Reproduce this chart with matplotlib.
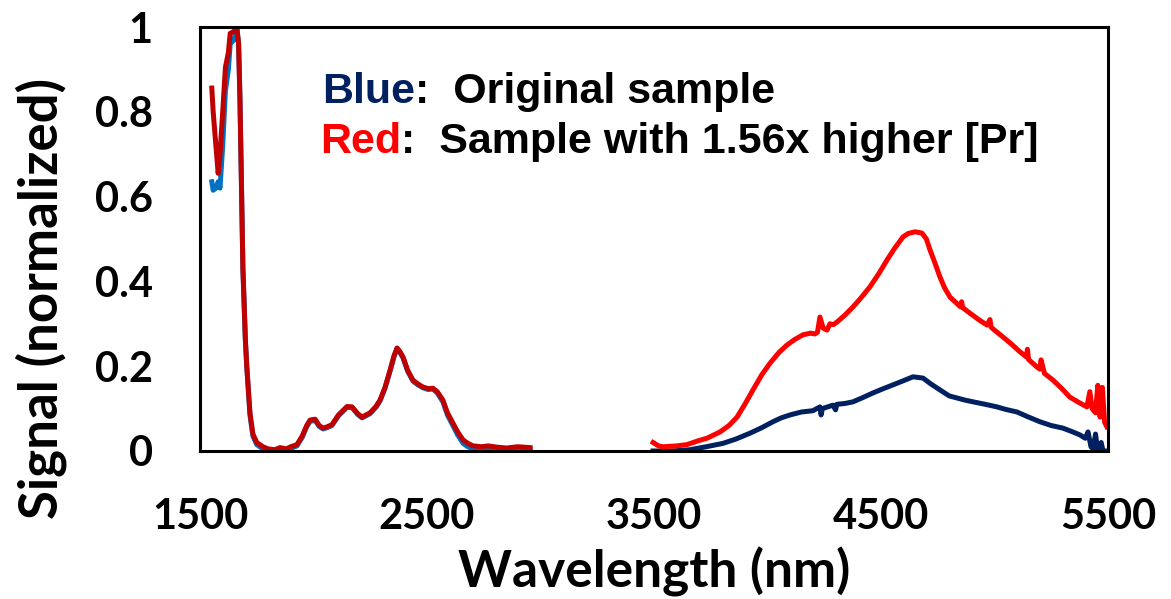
import matplotlib.pyplot as plt

# short-wavelength region (1.5-3 um)
wl_short = [1552, 1558, 1570, 1580, 1588, 1600, 1612, 1625, 1633, 1650, 1662, 1670,
            1676, 1689, 1700, 1706, 1720, 1733, 1750, 1777, 1800, 1830, 1852, 1880,
            1900, 1927, 1950, 1970, 1985, 2007, 2025, 2042, 2060, 2081, 2110, 2148,
            2170, 2195, 2214, 2249, 2275, 2293, 2315, 2337, 2355, 2368, 2380, 2394,
            2415, 2438, 2460, 2482, 2505, 2526, 2545, 2570, 2590, 2614, 2635, 2659,
            2680, 2703, 2740, 2770, 2808, 2850, 2900, 2954]
blue_short = [0.635, 0.615, 0.62, 0.635, 0.62, 0.72, 0.85, 0.9, 0.96, 0.97, 1.0, 0.96,
              0.83, 0.43, 0.26, 0.2, 0.085, 0.035, 0.015, 0.005, 0.002, 0.0, 0.004, 0.002,
              0.006, 0.012, 0.032, 0.057, 0.07, 0.072, 0.058, 0.052, 0.055, 0.06, 0.083, 0.103,
              0.102, 0.086, 0.078, 0.088, 0.103, 0.118, 0.148, 0.188, 0.223, 0.241, 0.233, 0.22,
              0.188, 0.165, 0.156, 0.149, 0.145, 0.146, 0.137, 0.116, 0.085, 0.06, 0.038, 0.018,
              0.01, 0.005, 0.004, 0.005, 0.003, 0.002, 0.004, 0.003]
red_short = [0.856, 0.80, 0.72, 0.655, 0.70, 0.80, 0.905, 0.94, 0.985, 0.99, 1.0, 0.96,
             0.83, 0.43, 0.26, 0.2, 0.09, 0.04, 0.02, 0.01, 0.005, 0.003, 0.008, 0.005,
             0.01, 0.015, 0.035, 0.06, 0.073, 0.075, 0.06, 0.054, 0.057, 0.062, 0.085, 0.105,
             0.104, 0.088, 0.08, 0.09, 0.105, 0.12, 0.15, 0.19, 0.225, 0.243, 0.235, 0.222,
             0.19, 0.167, 0.158, 0.151, 0.147, 0.148, 0.14, 0.12, 0.09, 0.066, 0.045, 0.026,
             0.018, 0.012, 0.01, 0.012, 0.009, 0.007, 0.01, 0.008]

# long-wavelength region (3.5-5.5 um)
wl_long_red = [3496, 3520, 3540, 3600, 3645, 3700, 3733, 3791, 3830, 3866, 3900, 3936,
               3975, 4011, 4050, 4086, 4120, 4156, 4190, 4209, 4220, 4231, 4245, 4262,
               4275, 4290, 4306, 4340, 4377, 4410, 4451, 4490, 4526, 4560, 4597, 4620,
               4650, 4680, 4700, 4716, 4740, 4760, 4780, 4804, 4850, 4855, 4860, 4892,
               4930, 4967, 4980, 4985, 5000, 5037, 5075, 5112, 5140, 5145, 5150, 5187,
               5200, 5205, 5220, 5258, 5295, 5332, 5370, 5407, 5420, 5430, 5445, 5455,
               5465, 5475, 5485, 5495]
red_long = [0.02, 0.012, 0.01, 0.012, 0.015, 0.025, 0.03, 0.045, 0.06, 0.08, 0.11, 0.144,
            0.18, 0.207, 0.232, 0.25, 0.263, 0.274, 0.278, 0.276, 0.28, 0.316, 0.29, 0.285,
            0.3, 0.298, 0.304, 0.32, 0.34, 0.36, 0.387, 0.418, 0.45, 0.478, 0.505, 0.513,
            0.517, 0.514, 0.5, 0.474, 0.44, 0.41, 0.385, 0.363, 0.34, 0.352, 0.338, 0.325,
            0.31, 0.297, 0.31, 0.292, 0.285, 0.269, 0.252, 0.234, 0.222, 0.24, 0.216, 0.198,
            0.193, 0.215, 0.183, 0.167, 0.148, 0.127, 0.115, 0.104, 0.14, 0.1, 0.09, 0.155,
            0.08, 0.15, 0.068, 0.057]
wl_long_blue = [3496, 3580, 3658, 3730, 3804, 3860, 3923, 3975, 4024, 4060, 4099, 4150,
                4200, 4231, 4236, 4242, 4288, 4300, 4305, 4340, 4377, 4420, 4465, 4510,
                4553, 4600, 4641, 4685, 4720, 4760, 4800, 4835, 4870, 4905, 4960, 5011,
                5050, 5099, 5150, 5200, 5250, 5301, 5340, 5376, 5400, 5412, 5425, 5434,
                5445, 5455, 5470, 5478, 5495]
blue_long = [0.0, 0.0, 0.003, 0.01, 0.018, 0.028, 0.042, 0.055, 0.069, 0.078, 0.085, 0.092,
             0.095, 0.104, 0.085, 0.1, 0.108, 0.097, 0.11, 0.112, 0.116, 0.126, 0.137, 0.147,
             0.156, 0.166, 0.175, 0.172, 0.158, 0.144, 0.13, 0.125, 0.12, 0.116, 0.11, 0.104,
             0.098, 0.092, 0.08, 0.069, 0.06, 0.054, 0.046, 0.038, 0.03, 0.045, 0.01, 0.005,
             0.04, 0.0, 0.02, 0.0, 0.0]

fig = plt.figure(figsize=(11.71, 5.99), dpi=100)
ax = fig.add_axes([0.1708, 0.2471, 0.7754, 0.7078])

ax.plot(wl_short, blue_short, color='#0070C0', lw=3.6)
ax.plot(wl_short, red_short, color='#C00000', lw=3.6)
ax.plot(wl_long_blue, blue_long, color='#002060', lw=3.6)
ax.plot(wl_long_red, red_long, color='#FF0000', lw=3.6)

ax.set_xlim(1500, 5500)
ax.set_ylim(0, 1)
ax.set_xticks([1500, 2500, 3500, 4500, 5500])
ax.set_yticks([0, 0.2, 0.4, 0.6, 0.8, 1])
ax.set_yticklabels(['0', '0.2', '0.4', '0.6', '0.8', '1'])
ax.tick_params(length=0, labelsize=30, pad=34)
for lab in ax.get_xticklabels() + ax.get_yticklabels():
    lab.set_family('Lato')
    lab.set_fontweight('bold')
for s in ax.spines.values():
    s.set_linewidth(2.2)
    s.set_color('black')

ax.set_xlabel('Wavelength (nm)', family='Lato', fontweight='bold', fontsize=37)
ax.set_ylabel('Signal (normalized)', family='Lato', fontweight='bold', fontsize=38)
ax.xaxis.set_label_coords(0.5, -0.225)
ax.yaxis.set_label_coords(-0.146, 0.36)

# coloured legend text
tf = dict(family='Liberation Sans', fontweight='bold', fontsize=31)
t1 = ax.text(0.134, 0.821, 'Blue', color='#002060', transform=ax.transAxes, **tf)
ax.annotate(':  Original sample', xy=(1, 0), xycoords=t1, va='bottom', color='black', **tf)
t2 = ax.text(0.132, 0.703, 'Red', color='#FF0000', transform=ax.transAxes, **tf)
ax.annotate(':  Sample with 1.56x higher [Pr]', xy=(1, 0), xycoords=t2, va='bottom', color='black', **tf)

fig.savefig('out.png', dpi=100)
